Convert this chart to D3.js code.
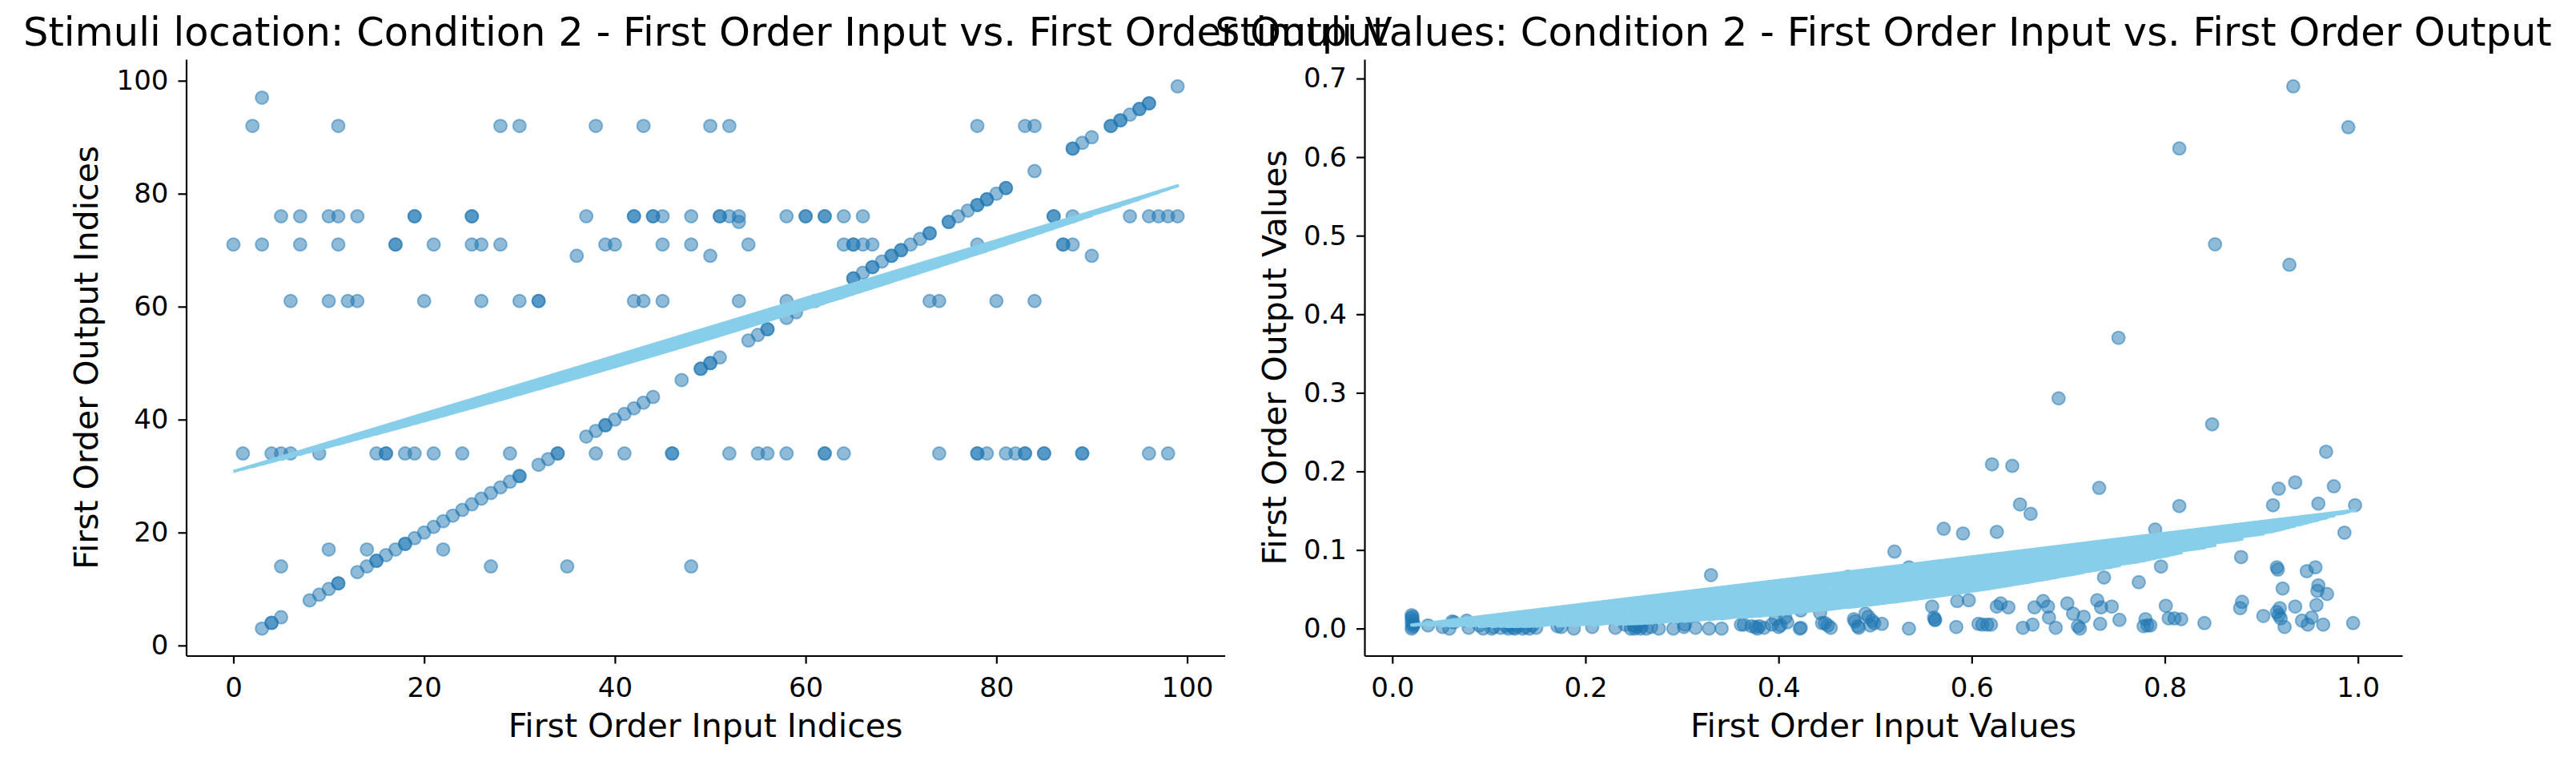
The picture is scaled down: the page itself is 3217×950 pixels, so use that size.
<!DOCTYPE html>
<html>
<head>
<meta charset="utf-8">
<script src="https://cdn.jsdelivr.net/npm/d3@7"></script>
<style>
  body { margin: 0; background: #fff; }
  svg { display: block; font-family: "DejaVu Sans", sans-serif; }
</style>
</head>
<body>
<svg id="chart" width="3217" height="950"></svg>
<script>
// ---- left panel: stimuli location (indices) ----
// points that land on a fixed output index, one list of inputs per output level
const levelOutputs = [97, 92, 76, 75, 71, 69, 61, 34, 17, 14];
const levelInputs = [
  [3],
  [2, 11, 28, 30, 38, 43, 50, 52, 78, 83, 84],
  [5, 7, 10, 11, 13, 19, 19, 25, 25, 37, 42, 42, 44, 44, 45, 48, 51, 51, 52, 53, 58, 60, 60, 62, 62, 64, 66, 86, 86, 88, 94, 96, 97, 98, 99],
  [53],
  [0, 3, 7, 11, 17, 17, 21, 25, 26, 28, 39, 40, 45, 48, 54, 64, 65, 65, 66, 67, 78, 87, 87, 88],
  [36, 50, 90],
  [6, 10, 12, 13, 20, 26, 30, 32, 32, 42, 43, 45, 53, 58, 73, 74, 80, 84],
  [1, 4, 5, 6, 9, 15, 16, 16, 18, 19, 21, 24, 29, 38, 41, 46, 46, 52, 55, 56, 58, 62, 62, 64, 74, 78, 78, 79, 81, 82, 83, 83, 85, 85, 89, 89, 96, 98],
  [10, 14, 22],
  [5, 27, 35, 48]
];
// points where output index == input index
const matchedIndices = [3, 4, 4, 5, 8, 9, 10, 11, 11, 13, 14, 15, 15, 16, 17, 18, 18, 19, 20, 21, 22, 23, 24, 25,
  26, 27, 28, 29, 30, 30, 32, 33, 34, 34, 37, 38, 39, 39, 40, 41, 42, 43, 44, 47, 49, 49, 50, 50, 51, 54, 55,
  56, 56, 58, 59, 61, 65, 65, 66, 67, 67, 68, 69, 69, 70, 70, 71, 72, 73, 73, 75, 75, 76, 77, 78, 78, 79, 79,
  80, 81, 81, 84, 88, 88, 89, 90, 92, 92, 93, 93, 94, 95, 95, 96, 96, 99];
// quadratic fit: [x^2, x, 1]
const locationFit = [0.0008, 0.4318, 30.8];

// ---- right panel: stimuli values ----
const valuePairs = [
  [0.933, 0.690], [0.990, 0.638], [0.815, 0.611], [0.852, 0.489], [0.929, 0.463], [0.752, 0.370],
  [0.690, 0.293], [0.849, 0.260], [0.967, 0.225], [0.621, 0.209], [0.642, 0.207], [0.732, 0.179],
  [0.918, 0.178], [0.935, 0.186], [0.975, 0.181], [0.650, 0.158], [0.661, 0.146], [0.815, 0.156],
  [0.912, 0.157], [0.959, 0.159], [0.997, 0.157], [0.571, 0.127], [0.591, 0.121], [0.626, 0.123],
  [0.790, 0.126], [0.986, 0.122], [0.520, 0.098], [0.879, 0.091], [0.535, 0.078], [0.796, 0.079],
  [0.916, 0.078], [0.917, 0.075], [0.947, 0.073], [0.956, 0.078], [0.330, 0.068], [0.472, 0.066],
  [0.737, 0.065], [0.773, 0.059], [0.922, 0.051], [0.959, 0.055], [0.958, 0.048], [0.968, 0.044],
  [0.559, 0.028], [0.585, 0.035], [0.597, 0.036], [0.626, 0.028], [0.630, 0.032], [0.638, 0.027],
  [0.665, 0.027], [0.674, 0.035], [0.679, 0.028], [0.680, 0.014], [0.699, 0.032], [0.705, 0.019],
  [0.716, 0.015], [0.730, 0.036], [0.734, 0.027], [0.745, 0.028], [0.753, 0.011], [0.801, 0.029],
  [0.804, 0.013], [0.810, 0.013], [0.817, 0.012], [0.780, 0.012], [0.880, 0.034], [0.878, 0.026],
  [0.935, 0.028], [0.957, 0.030], [0.919, 0.026], [0.916, 0.021], [0.918, 0.017], [0.920, 0.013],
  [0.902, 0.016], [0.952, 0.014], [0.942, 0.010], [0.562, 0.011], [0.562, 0.011], [0.490, 0.019],
  [0.493, 0.015], [0.443, 0.020], [0.423, 0.023], [0.407, 0.014], [0.397, 0.012], [0.478, 0.012],
  [0.497, 0.010], [0.561, 0.014],
  [0.733, 0.006], [0.778, 0.003], [0.782, 0.004], [0.785, 0.004], [0.687, 0.001], [0.663, 0.005],
  [0.653, 0.001], [0.710, 0.003], [0.712, 0.000], [0.607, 0.006], [0.611, 0.005], [0.616, 0.005],
  [0.620, 0.005], [0.584, 0.002], [0.535, 0.000], [0.507, 0.006], [0.499, 0.007], [0.495, 0.004],
  [0.479, 0.009], [0.483, 0.001], [0.445, 0.007], [0.451, 0.004], [0.454, 0.001], [0.423, 0.001],
  [0.409, 0.008], [0.402, 0.004], [0.841, 0.007], [0.924, 0.002], [0.948, 0.005], [0.964, 0.005],
  [0.995, 0.007],
  [0.020, 0.017], [0.020, 0.013], [0.021, 0.010], [0.020, 0.007], [0.022, 0.004], [0.021, 0.002],
  [0.020, 0.000], [0.022, 0.006], [0.021, 0.015],
  [0.037, 0.004], [0.052, 0.002], [0.059, 0.000], [0.062, 0.009], [0.064, 0.008], [0.077, 0.010],
  [0.079, 0.001], [0.094, 0.000], [0.103, 0.000], [0.112, 0.001], [0.120, 0.000], [0.127, 0.000],
  [0.135, 0.000], [0.142, 0.000], [0.149, 0.001], [0.171, 0.003], [0.175, 0.002], [0.188, 0.000],
  [0.207, 0.002], [0.231, 0.001], [0.241, 0.005], [0.247, 0.000], [0.251, 0.000], [0.257, 0.000],
  [0.263, 0.000], [0.276, 0.000], [0.291, 0.000], [0.302, 0.002], [0.314, 0.001], [0.328, 0.000],
  [0.341, 0.000], [0.361, 0.005], [0.372, 0.003], [0.378, 0.000], [0.385, 0.001], [0.393, 0.005],
  [0.400, 0.002],
  [0.303, 0.005], [0.364, 0.005], [0.422, 0.000], [0.448, 0.007], [0.482, 0.003], [0.268, 0.002],
  [0.255, 0.006], [0.130, 0.003], [0.145, 0.004], [0.090, 0.004], [0.105, 0.002], [0.118, 0.003],
  [0.125, 0.001], [0.138, 0.002], [0.253, 0.002], [0.258, 0.003], [0.250, 0.004], [0.380, 0.003],
  [0.376, 0.002], [0.122, 0.005]
];
const valueFit = [0.19, -0.0436, 0.0052];

const locationXTicks = [0, 20, 40, 60, 80, 100];
const locationYTicks = [0, 20, 40, 60, 80, 100];
const valueXTicks = [0, 0.2, 0.4, 0.6, 0.8, 1.0];
const valueYTicks = [0, 0.1, 0.2, 0.3, 0.4, 0.5, 0.6, 0.7];

// build the location pairs from the level lists
let locationPairs = [];
levelInputs.forEach((inputs, i) => {
  inputs.forEach(x => locationPairs.push([x, levelOutputs[i]]));
});
matchedIndices.forEach(x => locationPairs.push([x, x]));

const width = 3217, height = 950;
const svg = d3.select("#chart");
svg.append("rect").attr("width", width).attr("height", height).attr("fill", "#ffffff");

const pointColor = "#1f77b4";
const fitColor = "#87ceeb";

// the fit was plotted against unsorted samples, so the line jumps back and forth
// between low and high inputs; alternate the ends of the sorted inputs to get that
function zigzagOrder(points) {
  const sorted = d3.range(points.length).sort((a, b) => points[a][0] - points[b][0]);
  let out = [];
  let i = 0, j = sorted.length - 1;
  while (i <= j) {
    out.push(sorted[i++]);
    if (i <= j) out.push(sorted[j--]);
  }
  return out;
}

function drawPanel(cfg) {
  const g = svg.append("g");
  const xExt = d3.extent(cfg.points, d => d[0]);
  const yExt = d3.extent(cfg.points, d => d[1]);
  const xPad = (xExt[1] - xExt[0]) * 0.05;
  const yPad = (yExt[1] - yExt[0]) * 0.05;

  const x = d3.scaleLinear()
              .domain([xExt[0] - xPad, xExt[1] + xPad])
              .range([cfg.left, cfg.right]);
  const y = d3.scaleLinear()
              .domain([yExt[0] - yPad, yExt[1] + yPad])
              .range([cfg.bottom, cfg.top]);

  g.append("g")
   .selectAll("circle")
   .data(cfg.points)
   .join("circle")
   .attr("cx", d => x(d[0]))
   .attr("cy", d => y(d[1]))
   .attr("r", 8)
   .attr("fill", pointColor)
   .attr("fill-opacity", 0.5)
   .attr("stroke", pointColor)
   .attr("stroke-opacity", 0.5)
   .attr("stroke-width", 2);

  const poly = v => cfg.fit[0] * v * v + cfg.fit[1] * v + cfg.fit[2];
  const fitPoints = zigzagOrder(cfg.points).map(i => [cfg.points[i][0], poly(cfg.points[i][0])]);
  const line = d3.line().x(d => x(d[0])).y(d => y(d[1]));

  g.append("path")
   .attr("d", line(fitPoints))
   .attr("fill", "none")
   .attr("stroke", fitColor)
   .attr("stroke-width", 4)
   .attr("stroke-linejoin", "round");

  const xAxis = g.append("g")
                 .attr("transform", `translate(0, ${cfg.bottom})`)
                 .call(d3.axisBottom(x).tickValues(cfg.xTicks).tickFormat(cfg.xFormat)
                        .tickSize(10).tickSizeOuter(0).tickPadding(17));
  const yAxis = g.append("g")
                 .attr("transform", `translate(${cfg.left}, 0)`)
                 .call(d3.axisLeft(y).tickValues(cfg.yTicks).tickFormat(cfg.yFormat)
                        .tickSize(10).tickSizeOuter(0).tickPadding(12));

  for (const ax of [xAxis, yAxis]) {
    ax.attr("font-size", 34).attr("font-family", "DejaVu Sans");
    ax.select(".domain").attr("stroke", "#000").attr("stroke-width", 2.2);
    ax.selectAll(".tick line").attr("stroke", "#000").attr("stroke-width", 2.2);
    ax.selectAll(".tick text").attr("fill", "#000");
  }

  const cx = (cfg.left + cfg.right) / 2;
  const cy = (cfg.top + cfg.bottom) / 2;

  svg.append("text")
     .attr("x", cx)
     .attr("y", 57)
     .attr("text-anchor", "middle")
     .attr("font-size", 49.5)
     .text(cfg.title);

  svg.append("text")
     .attr("x", cx)
     .attr("y", 920)
     .attr("text-anchor", "middle")
     .attr("font-size", 41)
     .text(cfg.xLabel);

  svg.append("text")
     .attr("transform", `translate(${cfg.yLabelX}, ${cy}) rotate(-90)`)
     .attr("text-anchor", "middle")
     .attr("font-size", 41)
     .text(cfg.yLabel);
}

drawPanel({
  points: locationPairs,
  fit: locationFit,
  left: 232.5, right: 1529.6, top: 74, bottom: 818.5,
  xTicks: locationXTicks, yTicks: locationYTicks,
  xFormat: d3.format("d"), yFormat: d3.format("d"),
  title: "Stimuli location: Condition 2 - First Order Input vs. First Order Output",
  xLabel: "First Order Input Indices",
  yLabel: "First Order Output Indices",
  yLabelX: 122
});

drawPanel({
  points: valuePairs,
  fit: valueFit,
  left: 1704, right: 3000, top: 74, bottom: 818.5,
  xTicks: valueXTicks, yTicks: valueYTicks,
  xFormat: d3.format(".1f"), yFormat: d3.format(".1f"),
  title: "Stimuli Values: Condition 2 - First Order Input vs. First Order Output",
  xLabel: "First Order Input Values",
  yLabel: "First Order Output Values",
  yLabelX: 1606
});
</script>
</body>
</html>
